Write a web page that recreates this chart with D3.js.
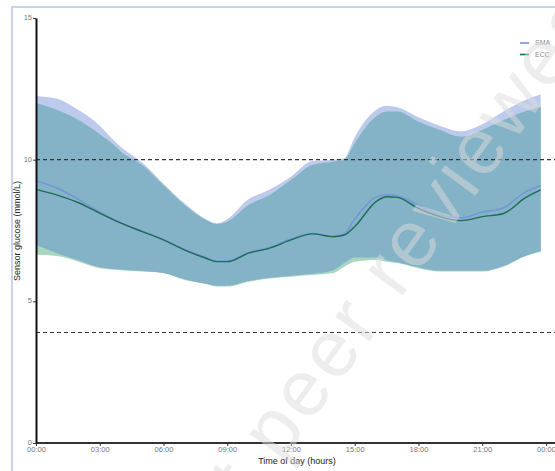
<!DOCTYPE html>
<html>
<head>
<meta charset="utf-8">
<script src="https://cdn.jsdelivr.net/npm/d3@7"></script>
<style>
  body { margin: 0; background: #fff; }
  svg { display: block; font-family: "Liberation Sans", Arial, sans-serif; }
</style>
</head>
<body>
<div id="chart-area"></div>
<script>
let width = 555,
    height = 471;

// hours of the day where values were read
const hours = [0, 1, 2, 3, 3.5, 4, 5, 6, 7, 8, 8.5, 9, 10, 11, 12, 13, 14, 14.5, 15, 16, 16.5, 17, 18, 19, 20, 21, 22, 23, 23.75];

// SMA group: mean and band
const smaMean  = [9.25, 9.0, 8.6, 8.15, 7.95, 7.78, 7.48, 7.18, 6.83, 6.55, 6.42, 6.42, 6.72, 6.9, 7.2, 7.4, 7.3, 7.38, 7.9, 8.68, 8.76, 8.72, 8.4, 8.05, 7.95, 8.15, 8.3, 8.85, 9.08];
const smaUpper = [12.25, 12.15, 11.75, 11.2, 10.8, 10.45, 9.9, 9.15, 8.45, 7.9, 7.75, 7.9, 8.6, 8.95, 9.4, 9.95, 10.0, 10.05, 10.8, 11.75, 11.9, 11.85, 11.5, 11.2, 11.0, 11.25, 11.7, 12.1, 12.3];
const smaLower = [7.0, 6.7, 6.45, 6.2, 6.15, 6.12, 6.07, 6.0, 5.78, 5.62, 5.55, 5.55, 5.72, 5.83, 5.9, 5.97, 6.1, 6.35, 6.55, 6.55, 6.45, 6.38, 6.2, 6.08, 6.08, 6.08, 6.25, 6.6, 6.78];

// ECC group: mean and band
const eccMean  = [8.95, 8.75, 8.48, 8.11, 7.93, 7.76, 7.46, 7.17, 6.81, 6.52, 6.4, 6.4, 6.7, 6.88, 7.17, 7.38, 7.28, 7.34, 7.64, 8.52, 8.69, 8.67, 8.28, 7.99, 7.85, 7.99, 8.1, 8.64, 8.93];
const eccUpper = [12.0, 11.75, 11.4, 10.9, 10.62, 10.28, 9.81, 9.1, 8.4, 7.87, 7.73, 7.81, 8.4, 8.75, 9.28, 9.81, 9.93, 9.99, 10.59, 11.52, 11.7, 11.7, 11.34, 11.05, 10.81, 11.05, 11.4, 11.7, 11.87];
const eccLower = [6.64, 6.6, 6.4, 6.17, 6.12, 6.1, 6.05, 6.0, 5.75, 5.61, 5.52, 5.52, 5.69, 5.81, 5.87, 5.93, 6.0, 6.22, 6.4, 6.46, 6.4, 6.35, 6.17, 6.05, 6.05, 6.05, 6.22, 6.58, 6.75];

// reference lines (mmol/L)
const targetLines = [10, 3.9];

const xTicks = [0, 3, 6, 9, 12, 15, 18, 21, 24];
const yTicks = [0, 5, 10, 15];
const seriesNames = ["SMA", "ECC"];

const colors = {
  SMA: "#7394d8", ECC: "#1c6d56",
  smaBand: "#bdcaee", eccBand: "#a7d7be", overlap: "#84b2c6"
};

const svg = d3.select("#chart-area")
  .append("svg")
  .attr("width", width)
  .attr("height", height);

// outer frame
svg.append("rect")
  .attr("x", 12).attr("y", 7)
  .attr("width", width + 20).attr("height", height + 20)
  .attr("fill", "none")
  .attr("stroke", "#c4d5ec")
  .attr("stroke-width", 2);

let x = d3.scaleLinear().domain([0, 24]).range([36, 546]);
let y = d3.scaleLinear().domain([0, 15]).range([443, 18]);

const data = hours.map((h, i) => ({
  h: h,
  smaM: smaMean[i], smaU: smaUpper[i], smaL: smaLower[i],
  eccM: eccMean[i], eccU: eccUpper[i], eccL: eccLower[i]
}));

const band = (lo, hi) => d3.area()
  .curve(d3.curveMonotoneX)
  .x(d => x(d.h))
  .y0(lo)
  .y1(hi);

svg.append("path").datum(data)
  .attr("fill", colors.smaBand)
  .attr("d", band(d => y(d.smaL), d => y(d.smaU)));
svg.append("path").datum(data)
  .attr("fill", colors.eccBand)
  .attr("d", band(d => y(d.eccL), d => y(d.eccU)));
// where both bands overlap
svg.append("path").datum(data)
  .attr("fill", colors.overlap)
  .attr("d", band(d => y(Math.max(d.smaL, d.eccL)), d => y(Math.min(d.smaU, d.eccU))));

// dashed target lines
svg.append("g").selectAll("line")
  .data(targetLines)
  .join("line")
  .attr("x1", x(0)).attr("x2", width)
  .attr("y1", d => y(d)).attr("y2", d => y(d))
  .attr("stroke", "#333")
  .attr("stroke-width", 1.1)
  .attr("stroke-dasharray", "4,3");

// mean lines
const meanLine = key => d3.line()
  .curve(d3.curveMonotoneX)
  .x(d => x(d.h))
  .y(d => y(d[key]));

svg.append("path").datum(data)
  .attr("fill", "none")
  .attr("stroke", colors.SMA)
  .attr("stroke-width", 1.4)
  .attr("d", meanLine("smaM"));
svg.append("path").datum(data)
  .attr("fill", "none")
  .attr("stroke", colors.ECC)
  .attr("stroke-width", 1.4)
  .attr("d", meanLine("eccM"));

// axes
const fmtHour = h => String(h % 24).padStart(2, "0") + ":00";

const xAxis = g => g
  .attr("transform", `translate(0,${y(0)})`)
  .call(d3.axisBottom(x).tickValues(xTicks).tickFormat(fmtHour).tickSize(3).tickSizeOuter(0))
  .call(g => g.select(".domain").attr("stroke", "#333").attr("stroke-width", 2)
    .attr("d", `M${x(0)},0H${width}`))
  .call(g => g.selectAll(".tick line").attr("stroke", "#333"))
  .call(g => g.selectAll(".tick text")
    .attr("fill", "#777").attr("font-size", 7.5).attr("y", 4).attr("dy", "0.71em")
    .attr("font-family", "Liberation Sans, Arial, sans-serif"));

const yAxis = g => g
  .attr("transform", `translate(${x(0)},0)`)
  .call(d3.axisLeft(y).tickValues(yTicks).tickSize(3).tickSizeOuter(0))
  .call(g => g.select(".domain").attr("stroke", "#111").attr("stroke-width", 2))
  .call(g => g.selectAll(".tick line").attr("stroke", "#333"))
  .call(g => g.selectAll(".tick text")
    .attr("fill", "#777").attr("font-size", 7.5).attr("x", -4).attr("dy", "0.2em")
    .attr("font-family", "Liberation Sans, Arial, sans-serif"));

svg.append("g").call(xAxis);
svg.append("g").call(yAxis);

// axis titles
svg.append("text")
  .attr("x", 297).attr("y", 464)
  .attr("text-anchor", "middle")
  .attr("font-size", 9)
  .attr("fill", "#222")
  .text("Time of day (hours)");

svg.append("text")
  .attr("transform", "translate(20,231) rotate(-90)")
  .attr("text-anchor", "middle")
  .attr("font-size", 9)
  .attr("fill", "#222")
  .text("Sensor glucose (mmol/L)");

// legend
const legend = svg.append("g").selectAll("g")
  .data(seriesNames)
  .join("g")
  .attr("transform", (d, i) => `translate(520,${43 + i * 11.5})`);
legend.append("line")
  .attr("x1", 0).attr("x2", 9)
  .attr("stroke", d => colors[d])
  .attr("stroke-width", 1.6);
legend.append("text")
  .attr("x", 15).attr("dy", "0.35em")
  .attr("font-size", 7)
  .attr("fill", "#888")
  .text(d => d);

// watermark
svg.append("text")
  .attr("transform", "translate(185,595) rotate(-54)")
  .attr("font-size", 80)
  .attr("letter-spacing", 4)
  .attr("fill", "#dcdcdc")
  .attr("fill-opacity", 0.5)
  .text("Not peer reviewed");
</script>
</body>
</html>
